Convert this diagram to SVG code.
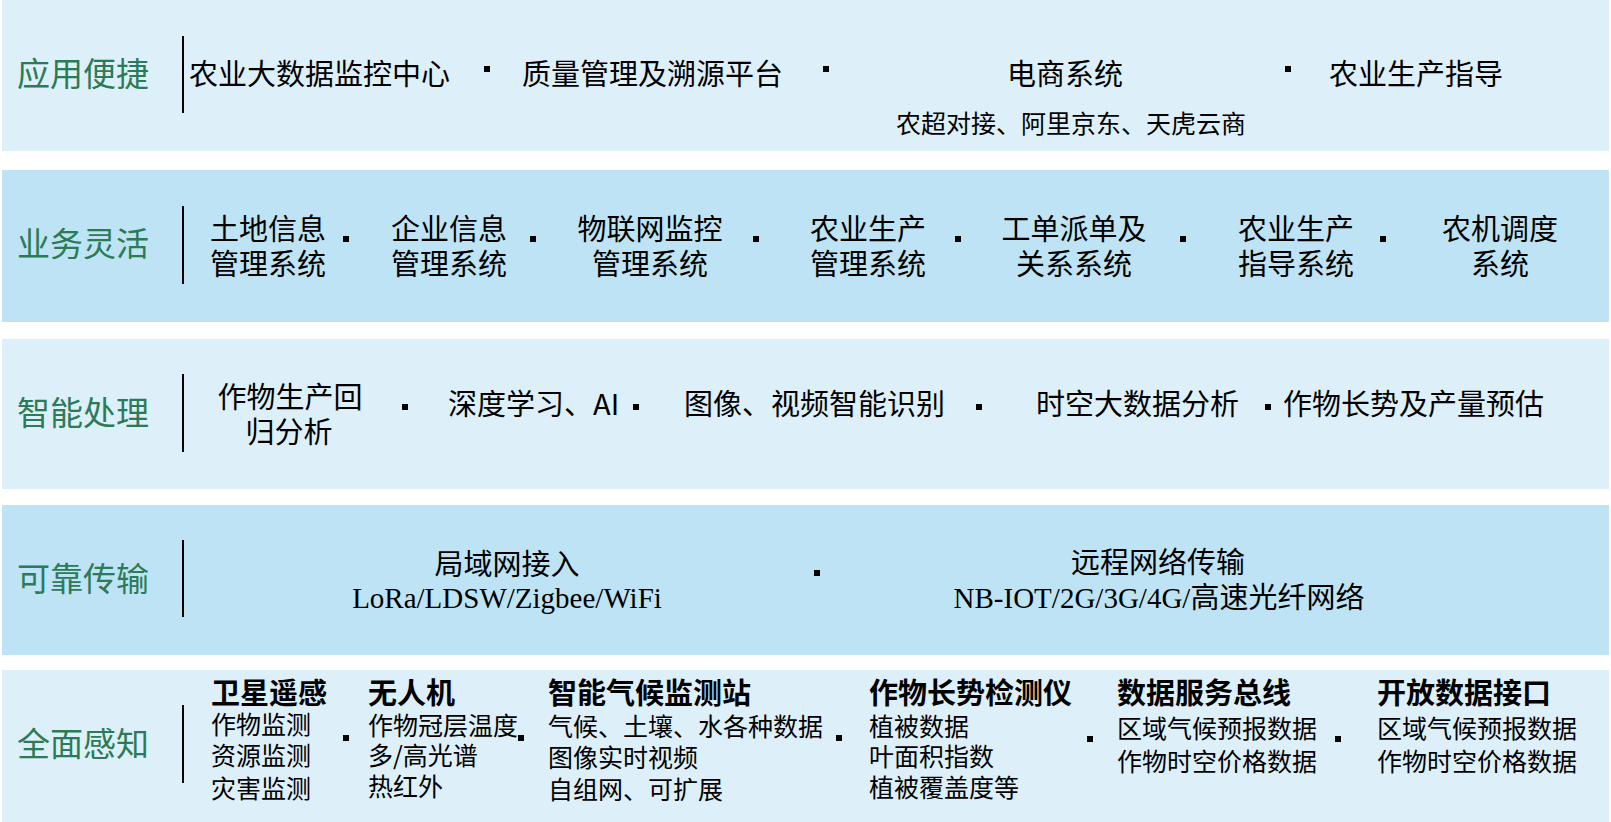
<svg xmlns="http://www.w3.org/2000/svg" width="1611" height="822" viewBox="0 0 1611 822">
<style>
.bl{fill:#DDEFF9}
.bd{fill:#BDE3F5}
.lab{font-family:"Noto Sans CJK SC","Noto Sans",sans-serif;font-size:33px;fill:#2B7B57}
.t{font-family:"Noto Sans CJK SC","Noto Sans",sans-serif;font-size:29px;fill:#000}
.s{font-family:"Noto Sans CJK SC","Noto Sans",sans-serif;font-size:25px;fill:#000}
.h{font-family:"Noto Sans CJK SC","Noto Sans",sans-serif;font-size:29px;font-weight:bold;fill:#000}
.ser{font-family:"Liberation Serif","Noto Sans CJK SC",serif;font-size:29px;fill:#000}
.m{text-anchor:middle}
.v{stroke:#000;stroke-width:2}
.b{fill:#000}
</style>
<rect width="1611" height="822" fill="#fff"/>

<g id="row-app">
<rect class="bl" x="2" y="0" width="1607" height="151"/>
<text class="lab" x="17" y="86">应用便捷</text>
<line class="v" x1="183" y1="36" x2="183" y2="113"/>
<text class="t" x="189" y="85">农业大数据监控中心</text>
<rect class="b" x="484" y="66" width="6" height="6"/>
<text class="t" x="522" y="85">质量管理及溯源平台</text>
<rect class="b" x="823" y="66" width="6" height="6"/>
<text class="t m" x="1065" y="85">电商系统</text>
<text class="s m" x="1071" y="133">农超对接、阿里京东、天虎云商</text>
<rect class="b" x="1285" y="66" width="6" height="6"/>
<text class="t" x="1329" y="85">农业生产指导</text>
</g>

<g id="row-biz">
<rect class="bd" x="2" y="170" width="1607" height="152"/>
<text class="lab" x="17" y="256">业务灵活</text>
<line class="v" x1="183" y1="206" x2="183" y2="284"/>
<text class="t m" x="268" y="240">土地信息</text>
<text class="t m" x="268" y="275">管理系统</text>
<rect class="b" x="343" y="236" width="6" height="6"/>
<text class="t m" x="449" y="240">企业信息</text>
<text class="t m" x="449" y="275">管理系统</text>
<rect class="b" x="530" y="236" width="6" height="6"/>
<text class="t m" x="650" y="240">物联网监控</text>
<text class="t m" x="650" y="275">管理系统</text>
<rect class="b" x="753" y="236" width="6" height="6"/>
<text class="t m" x="868" y="240">农业生产</text>
<text class="t m" x="868" y="275">管理系统</text>
<rect class="b" x="955" y="236" width="6" height="6"/>
<text class="t m" x="1074" y="240">工单派单及</text>
<text class="t m" x="1074" y="275">关系系统</text>
<rect class="b" x="1180" y="236" width="6" height="6"/>
<text class="t m" x="1296" y="240">农业生产</text>
<text class="t m" x="1296" y="275">指导系统</text>
<rect class="b" x="1380" y="236" width="6" height="6"/>
<text class="t m" x="1500" y="240">农机调度</text>
<text class="t m" x="1500" y="275">系统</text>
</g>

<g id="row-ai">
<rect class="bl" x="2" y="339" width="1607" height="150"/>
<text class="lab" x="17" y="425">智能处理</text>
<line class="v" x1="183" y1="374" x2="183" y2="452"/>
<text class="t m" x="290" y="408">作物生产回</text>
<text class="t m" x="289" y="443">归分析</text>
<rect class="b" x="402" y="404" width="6" height="6"/>
<text class="t" x="448" y="415">深度学习、AI</text>
<rect class="b" x="633" y="404" width="6" height="6"/>
<text class="t" x="684" y="415">图像、视频智能识别</text>
<rect class="b" x="976" y="404" width="6" height="6"/>
<text class="t" x="1036" y="415">时空大数据分析</text>
<rect class="b" x="1265" y="404" width="6" height="6"/>
<text class="t" x="1283" y="415">作物长势及产量预估</text>
</g>

<g id="row-net">
<rect class="bd" x="2" y="505" width="1607" height="150"/>
<text class="lab" x="17" y="591">可靠传输</text>
<line class="v" x1="183" y1="540" x2="183" y2="617"/>
<text class="t m" x="507" y="575">局域网接入</text>
<text class="ser m" x="507" y="608">LoRa/LDSW/Zigbee/WiFi</text>
<rect class="b" x="814" y="570" width="6" height="6"/>
<text class="t m" x="1158" y="573">远程网络传输</text>
<text class="ser m" x="1159" y="608">NB-IOT/2G/3G/4G/高速光纤网络</text>
</g>

<g id="row-sense">
<rect class="bl" x="2" y="670" width="1607" height="152"/>
<text class="lab" x="17" y="756">全面感知</text>
<line class="v" x1="183" y1="705" x2="183" y2="783"/>
<text class="h" x="211" y="704">卫星遥感</text>
<text class="s" x="211" y="734">作物监测</text>
<text class="s" x="211" y="765">资源监测</text>
<text class="s" x="211" y="798">灾害监测</text>
<rect class="b" x="343" y="735" width="6" height="6"/>
<text class="h" x="368" y="704">无人机</text>
<text class="s" x="368" y="735">作物冠层温度</text>
<text class="s" x="368" y="765">多/高光谱</text>
<text class="s" x="368" y="796">热红外</text>
<rect class="b" x="518" y="735" width="6" height="6"/>
<text class="h" x="548" y="704">智能气候监测站</text>
<text class="s" x="548" y="736">气候、土壤、水各种数据</text>
<text class="s" x="548" y="767">图像实时视频</text>
<text class="s" x="548" y="799">自组网、可扩展</text>
<rect class="b" x="836" y="735" width="6" height="6"/>
<text class="h" x="869" y="704">作物长势检测仪</text>
<text class="s" x="869" y="736">植被数据</text>
<text class="s" x="869" y="766">叶面积指数</text>
<text class="s" x="869" y="797">植被覆盖度等</text>
<rect class="b" x="1087" y="736" width="6" height="6"/>
<text class="h" x="1117" y="704">数据服务总线</text>
<text class="s" x="1117" y="738">区域气候预报数据</text>
<text class="s" x="1117" y="771">作物时空价格数据</text>
<rect class="b" x="1335" y="736" width="6" height="6"/>
<text class="h" x="1377" y="704">开放数据接口</text>
<text class="s" x="1377" y="738">区域气候预报数据</text>
<text class="s" x="1377" y="771">作物时空价格数据</text>
</g>
</svg>
